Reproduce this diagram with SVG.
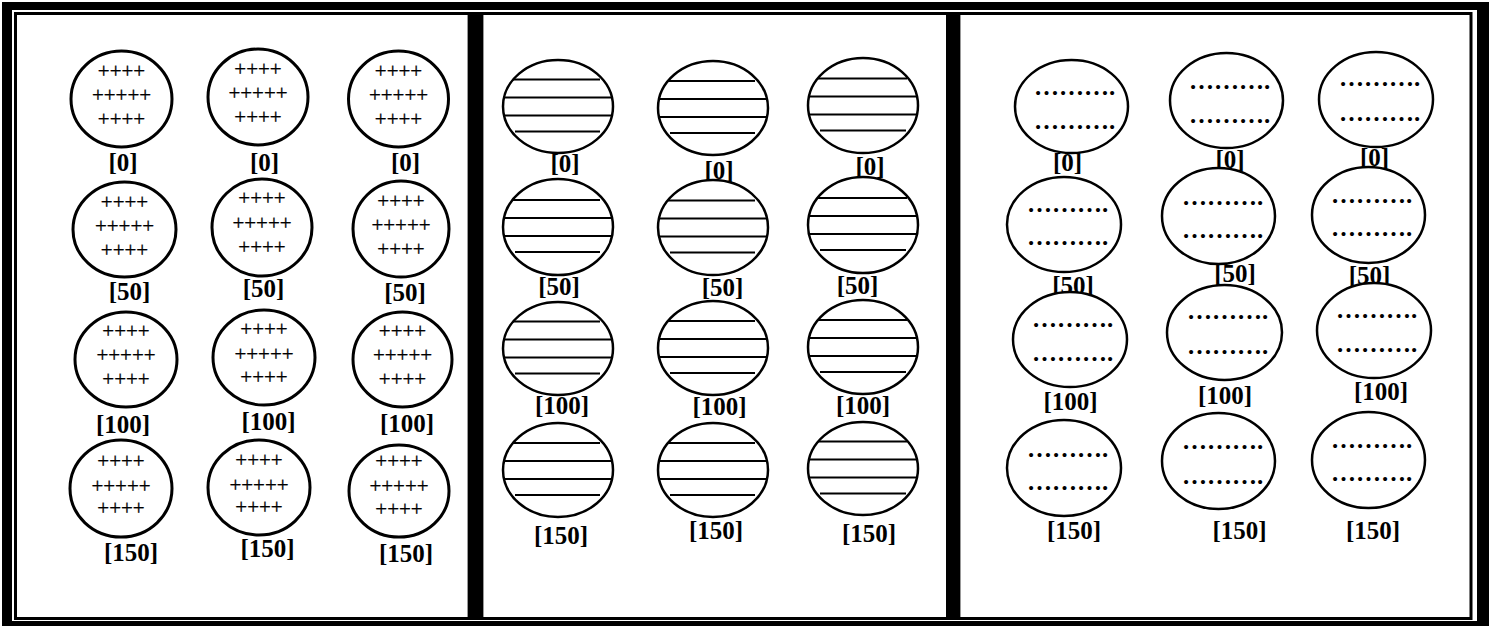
<svg xmlns="http://www.w3.org/2000/svg" width="1493" height="629" viewBox="0 0 1493 629">
<style>
.pc{fill:#fff;stroke:#000;stroke-width:3}
.ec{fill:#fff;stroke:#000;stroke-width:2.5}
.hl{stroke:#000;stroke-width:2}
.plus{font-family:"Liberation Serif",serif;font-size:21px;text-anchor:middle;fill:#000;stroke:#000;stroke-width:0.3}
.dots{font-family:"Liberation Serif",serif;font-size:25px;font-weight:bold;fill:#000}
.lbl{font-family:"Liberation Serif",serif;font-size:25px;font-weight:bold;text-anchor:middle;fill:#000}
</style>
<rect width="1493" height="629" fill="#fff"/>
<g id="frame">
<path d="M2 2H1489V626H2Z M12 10V621H1477V10Z" fill="#000" fill-rule="evenodd"/>
<rect x="15.5" y="13.5" width="1455.5" height="605" fill="none" stroke="#000" stroke-width="3"/>
<rect x="468" y="13" width="15" height="607" fill="#000"/>
<rect x="946" y="13" width="14" height="607" fill="#000"/>
<line x1="467.5" y1="15" x2="467.5" y2="617" stroke="#999" stroke-width="1"/>
<line x1="483.5" y1="15" x2="483.5" y2="617" stroke="#999" stroke-width="1"/>
<line x1="960.5" y1="15" x2="960.5" y2="617" stroke="#999" stroke-width="1"/>
</g>
<g id="panel1">
<g id="p1-r1-c1"><ellipse class="pc" cx="121.5" cy="99" rx="50.5" ry="48"/><text class="plus" x="121.5" y="78">++++</text><text class="plus" x="121.5" y="102">+++++</text><text class="plus" x="121.5" y="126">++++</text><text class="lbl" x="123" y="171">[0]</text></g>
<g id="p1-r1-c2"><ellipse class="pc" cx="258" cy="97" rx="50" ry="48"/><text class="plus" x="258" y="76">++++</text><text class="plus" x="258" y="100">+++++</text><text class="plus" x="258" y="124">++++</text><text class="lbl" x="264.5" y="171">[0]</text></g>
<g id="p1-r1-c3"><ellipse class="pc" cx="398.5" cy="99" rx="50" ry="48"/><text class="plus" x="398.5" y="78">++++</text><text class="plus" x="398.5" y="102">+++++</text><text class="plus" x="398.5" y="126">++++</text><text class="lbl" x="405.5" y="171">[0]</text></g>
<g id="p1-r2-c1"><ellipse class="pc" cx="124.5" cy="229.5" rx="51.5" ry="47.5"/><text class="plus" x="124.5" y="208.5">++++</text><text class="plus" x="124.5" y="232.5">+++++</text><text class="plus" x="124.5" y="256.5">++++</text><text class="lbl" x="129.5" y="300">[50]</text></g>
<g id="p1-r2-c2"><ellipse class="pc" cx="262" cy="227.5" rx="50" ry="48.5"/><text class="plus" x="262" y="205">++++</text><text class="plus" x="262" y="230">+++++</text><text class="plus" x="262" y="254">++++</text><text class="lbl" x="263.5" y="297">[50]</text></g>
<g id="p1-r2-c3"><ellipse class="pc" cx="401" cy="229" rx="48" ry="48"/><text class="plus" x="401" y="208">++++</text><text class="plus" x="401" y="232">+++++</text><text class="plus" x="401" y="256">++++</text><text class="lbl" x="405" y="301">[50]</text></g>
<g id="p1-r3-c1"><ellipse class="pc" cx="126" cy="359.5" rx="51" ry="47.5"/><text class="plus" x="126" y="338">++++</text><text class="plus" x="126" y="362">+++++</text><text class="plus" x="126" y="386">++++</text><text class="lbl" x="123" y="433">[100]</text></g>
<g id="p1-r3-c2"><ellipse class="pc" cx="264" cy="357.5" rx="51" ry="47.5"/><text class="plus" x="264" y="336">++++</text><text class="plus" x="264" y="361">+++++</text><text class="plus" x="264" y="384">++++</text><text class="lbl" x="268.5" y="430">[100]</text></g>
<g id="p1-r3-c3"><ellipse class="pc" cx="402.5" cy="359.5" rx="49.5" ry="47.5"/><text class="plus" x="402.5" y="338">++++</text><text class="plus" x="402.5" y="362">+++++</text><text class="plus" x="402.5" y="386">++++</text><text class="lbl" x="407" y="432">[100]</text></g>
<g id="p1-r4-c1"><ellipse class="pc" cx="121" cy="488.5" rx="51" ry="48.5"/><text class="plus" x="121" y="468">++++</text><text class="plus" x="121" y="493">+++++</text><text class="plus" x="121" y="515">++++</text><text class="lbl" x="131" y="561">[150]</text></g>
<g id="p1-r4-c2"><ellipse class="pc" cx="259" cy="487.5" rx="51" ry="47.5"/><text class="plus" x="259" y="467">++++</text><text class="plus" x="259" y="492">+++++</text><text class="plus" x="259" y="514">++++</text><text class="lbl" x="267.5" y="557">[150]</text></g>
<g id="p1-r4-c3"><ellipse class="pc" cx="399" cy="491" rx="50" ry="46"/><text class="plus" x="399" y="468">++++</text><text class="plus" x="399" y="493">+++++</text><text class="plus" x="399" y="516">++++</text><text class="lbl" x="406" y="562">[150]</text></g>
</g>
<g id="panel2">
<g id="p2-r1-c1"><ellipse class="ec" cx="558" cy="106.5" rx="55" ry="46.5"/><line class="hl" x1="513" y1="79.5" x2="600" y2="79.5"/><line class="hl" x1="503" y1="97.5" x2="613" y2="97.5"/><line class="hl" x1="503" y1="115.5" x2="613" y2="115.5"/><line class="hl" x1="515" y1="131.5" x2="600" y2="131.5"/><text class="lbl" x="565" y="172">[0]</text></g>
<g id="p2-r1-c2"><ellipse class="ec" cx="713" cy="108" rx="55" ry="47"/><line class="hl" x1="668" y1="81" x2="755" y2="81"/><line class="hl" x1="658" y1="99" x2="768" y2="99"/><line class="hl" x1="658" y1="117" x2="768" y2="117"/><line class="hl" x1="670" y1="133" x2="755" y2="133"/><text class="lbl" x="719" y="179">[0]</text></g>
<g id="p2-r1-c3"><ellipse class="ec" cx="863" cy="105.5" rx="55" ry="47.5"/><line class="hl" x1="818" y1="78.5" x2="907" y2="78.5"/><line class="hl" x1="808" y1="96.5" x2="918" y2="96.5"/><line class="hl" x1="808" y1="114.5" x2="918" y2="114.5"/><line class="hl" x1="820" y1="130.5" x2="906" y2="130.5"/><text class="lbl" x="870" y="175">[0]</text></g>
<g id="p2-r2-c1"><ellipse class="ec" cx="558" cy="227" rx="55" ry="48"/><line class="hl" x1="513" y1="200" x2="600" y2="200"/><line class="hl" x1="503" y1="218" x2="613" y2="218"/><line class="hl" x1="503" y1="236" x2="613" y2="236"/><line class="hl" x1="515" y1="252" x2="600" y2="252"/><text class="lbl" x="559" y="295">[50]</text></g>
<g id="p2-r2-c2"><ellipse class="ec" cx="713" cy="227.5" rx="55" ry="47.5"/><line class="hl" x1="668" y1="200.5" x2="755" y2="200.5"/><line class="hl" x1="658" y1="218.5" x2="768" y2="218.5"/><line class="hl" x1="658" y1="236.5" x2="768" y2="236.5"/><line class="hl" x1="670" y1="252.5" x2="755" y2="252.5"/><text class="lbl" x="722.5" y="296">[50]</text></g>
<g id="p2-r2-c3"><ellipse class="ec" cx="863" cy="225" rx="55" ry="48"/><line class="hl" x1="818" y1="198" x2="907" y2="198"/><line class="hl" x1="808" y1="216" x2="918" y2="216"/><line class="hl" x1="808" y1="234" x2="918" y2="234"/><line class="hl" x1="820" y1="250" x2="906" y2="250"/><text class="lbl" x="857.5" y="294">[50]</text></g>
<g id="p2-r3-c1"><ellipse class="ec" cx="558" cy="348.5" rx="55" ry="46.5"/><line class="hl" x1="513" y1="321.5" x2="600" y2="321.5"/><line class="hl" x1="503" y1="339.5" x2="613" y2="339.5"/><line class="hl" x1="503" y1="357.5" x2="613" y2="357.5"/><line class="hl" x1="515" y1="373.5" x2="600" y2="373.5"/><text class="lbl" x="562" y="414">[100]</text></g>
<g id="p2-r3-c2"><ellipse class="ec" cx="713" cy="348" rx="55" ry="47"/><line class="hl" x1="668" y1="321" x2="755" y2="321"/><line class="hl" x1="658" y1="339" x2="768" y2="339"/><line class="hl" x1="658" y1="357" x2="768" y2="357"/><line class="hl" x1="670" y1="373" x2="755" y2="373"/><text class="lbl" x="719.5" y="415">[100]</text></g>
<g id="p2-r3-c3"><ellipse class="ec" cx="863" cy="347" rx="55" ry="47"/><line class="hl" x1="818" y1="320" x2="907" y2="320"/><line class="hl" x1="808" y1="338" x2="918" y2="338"/><line class="hl" x1="808" y1="356" x2="918" y2="356"/><line class="hl" x1="820" y1="372" x2="906" y2="372"/><text class="lbl" x="863" y="414">[100]</text></g>
<g id="p2-r4-c1"><ellipse class="ec" cx="558" cy="470" rx="55" ry="47"/><line class="hl" x1="513" y1="443" x2="600" y2="443"/><line class="hl" x1="503" y1="461" x2="613" y2="461"/><line class="hl" x1="503" y1="479" x2="613" y2="479"/><line class="hl" x1="515" y1="495" x2="600" y2="495"/><text class="lbl" x="561" y="544">[150]</text></g>
<g id="p2-r4-c2"><ellipse class="ec" cx="713" cy="470" rx="55" ry="47"/><line class="hl" x1="668" y1="443" x2="755" y2="443"/><line class="hl" x1="658" y1="461" x2="768" y2="461"/><line class="hl" x1="658" y1="479" x2="768" y2="479"/><line class="hl" x1="670" y1="495" x2="755" y2="495"/><text class="lbl" x="716" y="539">[150]</text></g>
<g id="p2-r4-c3"><ellipse class="ec" cx="863" cy="468.5" rx="55" ry="46.5"/><line class="hl" x1="818" y1="441.5" x2="907" y2="441.5"/><line class="hl" x1="808" y1="459.5" x2="918" y2="459.5"/><line class="hl" x1="808" y1="477.5" x2="918" y2="477.5"/><line class="hl" x1="820" y1="493.5" x2="906" y2="493.5"/><text class="lbl" x="869" y="542">[150]</text></g>
</g>
<g id="panel3">
<g id="p3-r1-c1"><ellipse class="ec" cx="1071.5" cy="106.5" rx="56.5" ry="46.5"/><text class="dots" x="1034" y="95">……….</text><text class="dots" x="1034" y="129">……….</text><text class="lbl" x="1067.5" y="171">[0]</text></g>
<g id="p3-r1-c2"><ellipse class="ec" cx="1226.5" cy="100.5" rx="56.5" ry="47.5"/><text class="dots" x="1189" y="89">……….</text><text class="dots" x="1189" y="123">……….</text><text class="lbl" x="1230" y="168">[0]</text></g>
<g id="p3-r1-c3"><ellipse class="ec" cx="1376" cy="99.5" rx="57" ry="47.5"/><text class="dots" x="1339" y="86">……….</text><text class="dots" x="1339" y="121">……….</text><text class="lbl" x="1374.5" y="166">[0]</text></g>
<g id="p3-r2-c1"><ellipse class="ec" cx="1064" cy="224.5" rx="57" ry="47.5"/><text class="dots" x="1027" y="212">……….</text><text class="dots" x="1027" y="245">……….</text><text class="lbl" x="1073" y="294">[50]</text></g>
<g id="p3-r2-c2"><ellipse class="ec" cx="1218.5" cy="216" rx="56.5" ry="48"/><text class="dots" x="1182" y="205">……….</text><text class="dots" x="1182" y="238">……….</text><text class="lbl" x="1235" y="282">[50]</text></g>
<g id="p3-r2-c3"><ellipse class="ec" cx="1368.5" cy="215" rx="56.5" ry="48"/><text class="dots" x="1331" y="203">……….</text><text class="dots" x="1331" y="236">……….</text><text class="lbl" x="1369.5" y="284">[50]</text></g>
<g id="p3-r3-c1"><ellipse class="ec" cx="1070" cy="339.5" rx="57" ry="47.5"/><text class="dots" x="1032" y="327">……….</text><text class="dots" x="1032" y="361">……….</text><text class="lbl" x="1070.5" y="410">[100]</text></g>
<g id="p3-r3-c2"><ellipse class="ec" cx="1224.5" cy="332.5" rx="57.5" ry="47.5"/><text class="dots" x="1187" y="319">……….</text><text class="dots" x="1187" y="354">……….</text><text class="lbl" x="1225" y="404">[100]</text></g>
<g id="p3-r3-c3"><ellipse class="ec" cx="1374" cy="330.5" rx="57" ry="47.5"/><text class="dots" x="1336" y="318">……….</text><text class="dots" x="1336" y="352">……….</text><text class="lbl" x="1381" y="400">[100]</text></g>
<g id="p3-r4-c1"><ellipse class="ec" cx="1064" cy="468" rx="57" ry="48"/><text class="dots" x="1027" y="457">……….</text><text class="dots" x="1027" y="490">……….</text><text class="lbl" x="1074" y="539">[150]</text></g>
<g id="p3-r4-c2"><ellipse class="ec" cx="1218.5" cy="461" rx="56.5" ry="48"/><text class="dots" x="1182" y="449">……….</text><text class="dots" x="1182" y="484">……….</text><text class="lbl" x="1239.5" y="539">[150]</text></g>
<g id="p3-r4-c3"><ellipse class="ec" cx="1368.5" cy="460" rx="56.5" ry="48"/><text class="dots" x="1331" y="448">……….</text><text class="dots" x="1331" y="481">……….</text><text class="lbl" x="1373" y="539">[150]</text></g>
</g>
<g id="connectors"/>
</svg>
